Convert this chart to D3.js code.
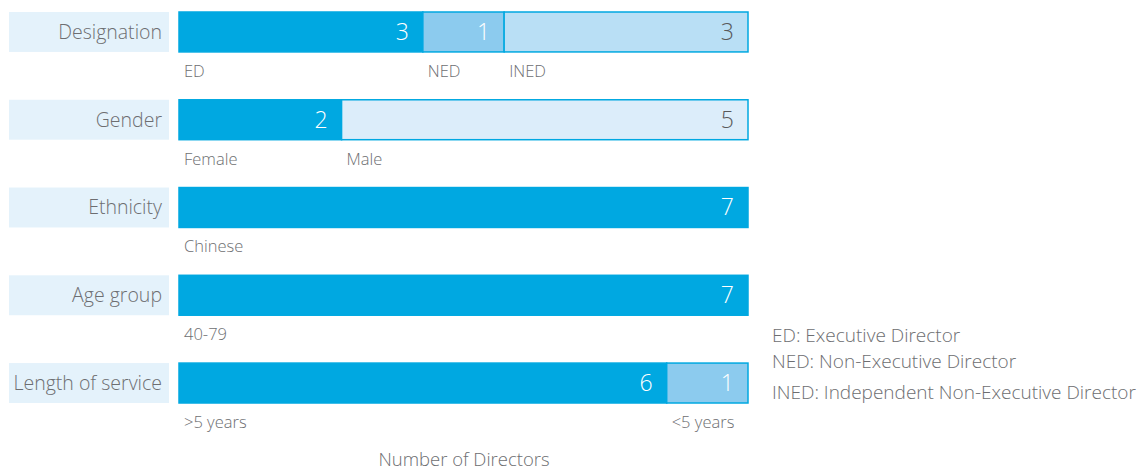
<!DOCTYPE html>
<html>
<head>
<meta charset="utf-8">
<script src="https://cdn.jsdelivr.net/npm/d3@7"></script>
<style>
  html, body { margin: 0; padding: 0; background: #ffffff; }
  svg { display: block; font-family: "Open Sans", "Noto Sans", sans-serif; font-weight: 300; }
</style>
</head>
<body>
<svg id="chart" width="1137" height="471"></svg>
<script>
// ---- data ----
const categories = ["Designation", "Gender", "Ethnicity", "Age group", "Length of service"];
const segmentNames = [
  ["ED", "NED", "INED"],
  ["Female", "Male"],
  ["Chinese"],
  ["40-79"],
  [">5 years", "<5 years"]
];
const segmentValues = [
  [3, 1, 3],
  [2, 5],
  [7],
  [7],
  [6, 1]
];
const segmentShades = [
  ["dark", "mid", "light"],
  ["dark", "pale"],
  ["dark"],
  ["dark"],
  ["dark", "mid"]
];
const legendLines = [
  "ED: Executive Director",
  "NED: Non-Executive Director",
  "INED: Independent Non-Executive Director"
];
const axisTitle = "Number of Directors";
const totalDirectors = 7;

// ---- styles ----
const fills = { dark: "#00a8e1", mid: "#8ccbee", light: "#b9dff5", pale: "#dcedfa" };
const valueColors = { dark: "#ffffff", mid: "#ffffff", light: "#58595b", pale: "#58595b" };
const textGray = "#6d6e71";

const svg = d3.select("#chart");

const x = d3.scaleLinear().domain([0, totalDirectors]).range([179, 748]);
const y = d3.scaleBand().domain(categories).range([12, 403]).paddingInner(0.545).paddingOuter(0);
const bh = y.bandwidth();

const rows = categories.map((c, i) => {
  let acc = 0;
  const segs = segmentValues[i].map((v, j) => {
    const s = { name: segmentNames[i][j], value: v, x0: acc, x1: acc + v, shade: segmentShades[i][j] };
    acc += v;
    return s;
  });
  return { cat: c, segs };
});

const row = svg.selectAll("g.row").data(rows).join("g").attr("class", "row")
  .attr("transform", d => `translate(0,${y(d.cat)})`);

// category label boxes
row.append("rect")
  .attr("x", 9).attr("y", 0).attr("width", 160).attr("height", bh)
  .attr("fill", "#e4f2fb");
row.append("text")
  .attr("x", 162).attr("y", bh / 2 + 7)
  .attr("text-anchor", "end")
  .attr("font-size", 19.5).attr("fill", textGray)
  .text(d => d.cat);

// segments
const seg = row.selectAll("g.seg").data(d => d.segs).join("g").attr("class", "seg");
seg.append("rect")
  .attr("x", d => x(d.x0)).attr("y", 0)
  .attr("width", d => x(d.x1) - x(d.x0)).attr("height", bh)
  .attr("fill", d => fills[d.shade])
  .attr("stroke", "#00a8e1").attr("stroke-width", 1.5);
seg.append("text")
  .attr("x", d => x(d.x1) - 14).attr("y", bh / 2 + 8)
  .attr("text-anchor", "end")
  .attr("font-size", 23)
  .attr("fill", d => valueColors[d.shade])
  .text(d => d.value);
seg.append("text")
  .attr("x", d => x(d.x0) + 5).attr("y", bh + 25)
  .attr("font-size", 16.5).attr("fill", textGray)
  .text(d => d.name);

// legend
svg.append("g").selectAll("text").data(legendLines).join("text")
  .attr("x", 772)
  .attr("y", (d, i) => [342, 368, 399][i])
  .attr("font-size", 19).attr("fill", textGray)
  .text(d => d);

// axis title
svg.append("text")
  .attr("x", 464).attr("y", 466)
  .attr("text-anchor", "middle")
  .attr("font-size", 18.5).attr("fill", textGray)
  .text(axisTitle);
</script>
</body>
</html>
